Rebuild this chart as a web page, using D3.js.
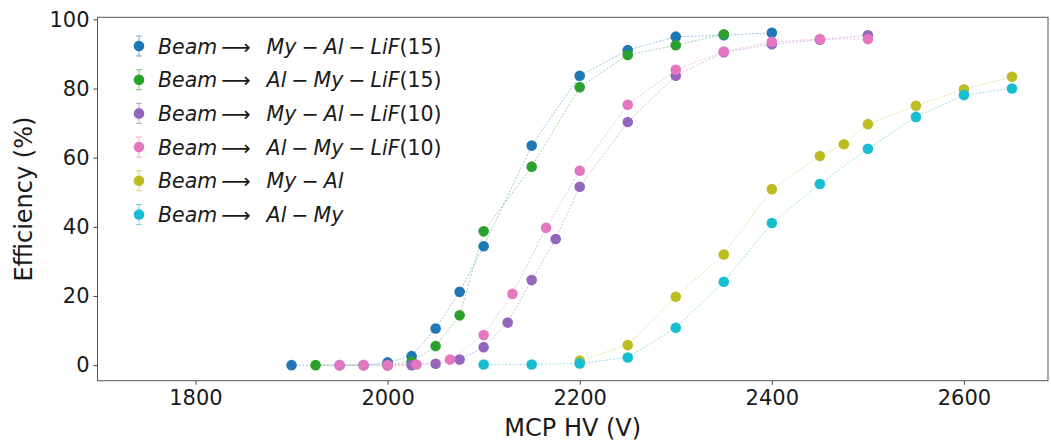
<!DOCTYPE html>
<html>
<head>
<meta charset="utf-8">
<script src="https://cdn.jsdelivr.net/npm/d3@7"></script>
<style>
  body { margin: 0; background: #fff; }
  text { font-family: "DejaVu Sans", sans-serif; fill: #1a1a1a; }
</style>
</head>
<body>
<svg id="chart" width="1051" height="448"></svg>
<script>
// data
var labels = [
  ["My", "Al", "LiF", "(15)"],
  ["Al", "My", "LiF", "(15)"],
  ["My", "Al", "LiF", "(10)"],
  ["Al", "My", "LiF", "(10)"],
  ["My", "Al"],
  ["Al", "My"]
];
var colors = ["#1f77b4", "#2ca02c", "#9467bd", "#e377c2", "#bcbd22", "#17becf"];

var hvMyAlLiF15 = [1900, 1950, 1975, 2000, 2025, 2050, 2075, 2100, 2150, 2200, 2250, 2300, 2350, 2400];
var effMyAlLiF15 = [0, 0, 0, 0.8, 2.6, 10.6, 21.2, 34.4, 63.5, 83.7, 91.1, 95.0, 95.4, 96.1];

var hvAlMyLiF15 = [1925, 2000, 2025, 2050, 2075, 2100, 2150, 2200, 2250, 2300, 2350];
var effAlMyLiF15 = [0, 0, 1.0, 5.5, 14.4, 38.7, 57.4, 80.4, 89.7, 92.5, 95.7];

var hvMyAlLiF10 = [2000, 2025, 2050, 2075, 2100, 2125, 2150, 2175, 2200, 2250, 2300, 2350, 2400, 2450, 2500];
var effMyAlLiF10 = [0, 0, 0.4, 1.6, 5.2, 12.3, 24.6, 36.5, 51.6, 70.3, 83.7, 90.5, 92.8, 94.1, 95.4];

var hvAlMyLiF10 = [1950, 1975, 2000, 2030, 2065, 2100, 2130, 2165, 2200, 2250, 2300, 2350, 2400, 2450, 2500];
var effAlMyLiF10 = [0, 0, 0, 0.2, 1.6, 8.7, 20.6, 39.7, 56.2, 75.3, 85.4, 90.7, 93.5, 94.3, 94.3];

var hvMyAl = [2200, 2250, 2300, 2350, 2400, 2450, 2475, 2500, 2550, 2600, 2650];
var effMyAl = [1.3, 5.8, 19.8, 32.0, 50.9, 60.5, 63.9, 69.7, 75.0, 79.8, 83.4];

var hvAlMy = [2100, 2150, 2200, 2250, 2300, 2350, 2400, 2450, 2500, 2550, 2600, 2650];
var effAlMy = [0.2, 0.2, 0.5, 2.2, 10.8, 24.1, 41.1, 52.4, 62.6, 71.8, 78.1, 80.0];

var xTicks = [1800, 2000, 2200, 2400, 2600];
var yTicks = [0, 20, 40, 60, 80, 100];

var series = [
  [hvMyAlLiF15, effMyAlLiF15],
  [hvAlMyLiF15, effAlMyLiF15],
  [hvMyAlLiF10, effMyAlLiF10],
  [hvAlMyLiF10, effAlMyLiF10],
  [hvMyAl, effMyAl],
  [hvAlMy, effAlMy]
].map(function(s, i) {
  return { color: colors[i], label: labels[i],
           pts: s[0].map(function(v, j) { return { x: v, y: s[1][j] }; }) };
});

var m = { left: 97.5, right: 1048, top: 17.3, bottom: 380.7 };
var svg = d3.select("#chart");

var x = d3.scaleLinear().domain([1698, 2687.5]).range([m.left, m.right]);
var y = d3.scaleLinear().domain([-4.5, 100.6]).range([m.bottom, m.top]);

// axes
var xAxis = d3.axisBottom(x).tickValues(xTicks).tickSize(4).tickPadding(5).tickFormat(d3.format("d"));
var yAxis = d3.axisLeft(y).tickValues(yTicks).tickSize(4).tickPadding(4);

var gx = svg.append("g").attr("transform", "translate(0," + m.bottom + ")").call(xAxis);
var gy = svg.append("g").attr("transform", "translate(" + m.left + ",0)").call(yAxis);
[gx, gy].forEach(function(g) {
  g.select(".domain").remove();
  g.selectAll(".tick line").attr("stroke", "#444");
  g.selectAll(".tick text").style("font-size", "21px").attr("fill", "#1a1a1a")
    .style("font-family", "DejaVu Sans");
});

// frame
svg.append("rect")
  .attr("x", m.left).attr("y", m.top)
  .attr("width", m.right - m.left).attr("height", m.bottom - m.top)
  .attr("fill", "none").attr("stroke", "#555").attr("stroke-width", 1);

svg.append("text")
  .attr("x", (m.left + m.right) / 2).attr("y", 436)
  .attr("text-anchor", "middle").style("font-size", "24px")
  .text("MCP HV (V)");

svg.append("text")
  .attr("transform", "translate(32," + ((m.top + m.bottom) / 2) + ") rotate(-90)")
  .attr("text-anchor", "middle").style("font-size", "24px")
  .text("Efficiency (%)");

// series: line then markers, in plotting order
var line = d3.line().x(function(d) { return x(d.x); }).y(function(d) { return y(d.y); });

series.forEach(function(s) {
  var g = svg.append("g");
  g.append("path")
    .attr("d", line(s.pts))
    .attr("fill", "none")
    .attr("stroke", s.color)
    .attr("stroke-opacity", 0.45)
    .attr("stroke-width", 1)
    .attr("stroke-dasharray", "2,1.6");
  g.selectAll("circle")
    .data(s.pts)
    .enter().append("circle")
      .attr("cx", function(d) { return x(d.x); })
      .attr("cy", function(d) { return y(d.y); })
      .attr("r", 5.3)
      .attr("fill", s.color);
});

// legend
var legend = svg.append("g").attr("transform", "translate(139,46)");
var rowH = 33.7;

var item = legend.selectAll("g")
    .data(series)
  .enter().append("g")
    .attr("transform", function(d, i) { return "translate(0," + i * rowH + ")"; });

item.append("line")
  .attr("y1", -10).attr("y2", 10)
  .attr("stroke", function(d) { return d.color; }).attr("stroke-opacity", 0.6);
item.selectAll(".cap")
    .data(function(d) { return [-10, 10].map(function(v) { return { c: d.color, v: v }; }); })
  .enter().append("line")
    .attr("x1", -3).attr("x2", 3)
    .attr("y1", function(d) { return d.v; }).attr("y2", function(d) { return d.v; })
    .attr("stroke", function(d) { return d.c; }).attr("stroke-opacity", 0.6);
item.append("circle").attr("r", 5.3).attr("fill", function(d) { return d.color; });

var txt = item.append("text")
  .attr("x", 19).attr("y", 7.5)
  .style("font-size", "20.5px");

txt.each(function(d) {
  var t = d3.select(this);
  t.append("tspan").style("font-style", "italic").text("Beam");
  t.append("tspan").attr("dx", 4).text("\u27F6");
  d.label.forEach(function(p, k) {
    if (p.charAt(0) === "(") {
      t.append("tspan").text(p);
      return;
    }
    if (k > 0) t.append("tspan").attr("dx", 5).text("\u2212");
    t.append("tspan").attr("dx", k === 0 ? 16 : 5).style("font-style", "italic").text(p);
  });
});
</script>
</body>
</html>
